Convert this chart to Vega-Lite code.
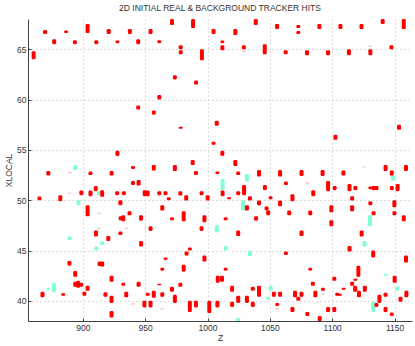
{
  "$schema": "https://vega.github.io/schema/vega-lite/v6.json",
  "autosize": "none",
  "width": 384,
  "height": 302,
  "padding": {"left": 28, "top": 19, "right": 3, "bottom": 25},
  "background": "white",
  "title": {"text": "2D INITIAL REAL & BACKGROUND TRACKER HITS", "font": "Liberation Sans", "fontSize": 8.5, "fontWeight": "normal", "color": "#333333", "offset": 7, "anchor": "middle"},
  "config": {
    "view": {"stroke": null},
    "axis": {"labelFont": "Liberation Sans", "titleFont": "Liberation Sans", "labelFontSize": 8.5, "titleFontSize": 8.5, "titleFontWeight": "normal", "labelColor": "#333333", "titleColor": "#333333", "domainColor": "#404040", "tickColor": "#404040", "gridColor": "#bdbdbd", "gridDash": [1, 3], "gridWidth": 1}
  },
  "data": {"values": [
    {"z": 860.5, "lo": 64.0, "hi": 64.8, "c": "red"},
    {"z": 869.7, "lo": 66.5, "hi": 66.9, "c": "red"},
    {"z": 877.0, "lo": 65.5, "hi": 66.0, "c": "red"},
    {"z": 886.6, "lo": 66.6, "hi": 66.85, "c": "red"},
    {"z": 893.6, "lo": 65.5, "hi": 65.9, "c": "red"},
    {"z": 903.8, "lo": 66.6, "hi": 67.5, "c": "red"},
    {"z": 910.8, "lo": 65.5, "hi": 65.9, "c": "red"},
    {"z": 920.7, "lo": 66.5, "hi": 67.0, "c": "red"},
    {"z": 927.7, "lo": 65.6, "hi": 65.86, "c": "red"},
    {"z": 937.7, "lo": 66.5, "hi": 67.0, "c": "red"},
    {"z": 944.4, "lo": 65.5, "hi": 66.0, "c": "red"},
    {"z": 954.3, "lo": 66.5, "hi": 67.0, "c": "red"},
    {"z": 961.3, "lo": 65.6, "hi": 65.9, "c": "red"},
    {"z": 971.5, "lo": 67.4, "hi": 68.0, "c": "red"},
    {"z": 978.5, "lo": 65.0, "hi": 65.4, "c": "red"},
    {"z": 978.5, "lo": 64.5, "hi": 64.9, "c": "red"},
    {"z": 988.4, "lo": 67.1, "hi": 68.0, "c": "red"},
    {"z": 995.5, "lo": 63.9, "hi": 65.0, "c": "red"},
    {"z": 973.8, "lo": 62.0, "hi": 62.4, "c": "red"},
    {"z": 990.8, "lo": 61.5, "hi": 61.9, "c": "red"},
    {"z": 961.3, "lo": 60.0, "hi": 60.45, "c": "red"},
    {"z": 944.4, "lo": 59.0, "hi": 59.4, "c": "red"},
    {"z": 956.9, "lo": 58.5, "hi": 58.9, "c": "red"},
    {"z": 978.5, "lo": 57.1, "hi": 57.3, "c": "red"},
    {"z": 927.7, "lo": 54.4, "hi": 54.9, "c": "red"},
    {"z": 1004.8, "lo": 66.5, "hi": 67.0, "c": "red"},
    {"z": 1022.3, "lo": 66.4, "hi": 67.0, "c": "red"},
    {"z": 1038.7, "lo": 67.4, "hi": 68.0, "c": "red"},
    {"z": 1011.9, "lo": 65.6, "hi": 65.86, "c": "red"},
    {"z": 1011.9, "lo": 64.9, "hi": 65.4, "c": "red"},
    {"z": 1029.1, "lo": 65.0, "hi": 65.4, "c": "red"},
    {"z": 1029.1, "lo": 64.72, "hi": 64.85, "c": "pink"},
    {"z": 1045.9, "lo": 64.5, "hi": 65.5, "c": "red"},
    {"z": 1055.8, "lo": 67.0, "hi": 67.5, "c": "red"},
    {"z": 1062.7, "lo": 64.5, "hi": 64.9, "c": "red"},
    {"z": 1072.8, "lo": 67.1, "hi": 67.4, "c": "red"},
    {"z": 1072.8, "lo": 66.5, "hi": 66.8, "c": "red"},
    {"z": 1079.8, "lo": 64.4, "hi": 64.9, "c": "red"},
    {"z": 1089.7, "lo": 67.0, "hi": 67.5, "c": "red"},
    {"z": 1096.7, "lo": 64.4, "hi": 64.9, "c": "red"},
    {"z": 1106.6, "lo": 67.0, "hi": 67.5, "c": "red"},
    {"z": 1113.4, "lo": 64.4, "hi": 65.0, "c": "red"},
    {"z": 1123.5, "lo": 67.0, "hi": 67.5, "c": "red"},
    {"z": 1130.6, "lo": 64.4, "hi": 65.0, "c": "red"},
    {"z": 1130.6, "lo": 65.22, "hi": 65.35, "c": "pink"},
    {"z": 1140.5, "lo": 67.5, "hi": 68.0, "c": "red"},
    {"z": 1147.5, "lo": 65.0, "hi": 65.4, "c": "red"},
    {"z": 1157.4, "lo": 67.0, "hi": 68.0, "c": "red"},
    {"z": 1007.4, "lo": 57.4, "hi": 57.9, "c": "red"},
    {"z": 1004.8, "lo": 55.5, "hi": 55.8, "c": "red"},
    {"z": 1011.9, "lo": 54.4, "hi": 54.9, "c": "red"},
    {"z": 1102.6, "lo": 56.0, "hi": 56.5, "c": "red"},
    {"z": 1153.6, "lo": 57.0, "hi": 57.5, "c": "red"},
    {"z": 893.9, "lo": 53.0, "hi": 53.5, "c": "cyan"},
    {"z": 872.3, "lo": 52.45, "hi": 52.9, "c": "red"},
    {"z": 889.4, "lo": 52.68, "hi": 52.8, "c": "pink"},
    {"z": 906.1, "lo": 52.5, "hi": 52.85, "c": "red"},
    {"z": 923.0, "lo": 52.45, "hi": 52.9, "c": "red"},
    {"z": 910.3, "lo": 50.9, "hi": 51.4, "c": "red"},
    {"z": 865.2, "lo": 50.0, "hi": 50.36, "c": "red"},
    {"z": 881.9, "lo": 49.9, "hi": 50.5, "c": "red"},
    {"z": 889.4, "lo": 50.65, "hi": 50.77, "c": "pink"},
    {"z": 898.8, "lo": 50.5, "hi": 50.96, "c": "red"},
    {"z": 906.1, "lo": 50.4, "hi": 50.96, "c": "red"},
    {"z": 912.9, "lo": 50.5, "hi": 50.9, "c": "cyan"},
    {"z": 915.5, "lo": 50.35, "hi": 51.0, "c": "red"},
    {"z": 927.5, "lo": 50.5, "hi": 50.9, "c": "red"},
    {"z": 932.9, "lo": 50.5, "hi": 50.9, "c": "red"},
    {"z": 896.5, "lo": 49.5, "hi": 50.0, "c": "cyan"},
    {"z": 930.1, "lo": 49.5, "hi": 50.0, "c": "red"},
    {"z": 903.8, "lo": 48.4, "hi": 49.5, "c": "red"},
    {"z": 912.9, "lo": 48.64, "hi": 48.76, "c": "pink"},
    {"z": 930.3, "lo": 48.0, "hi": 48.4, "c": "red"},
    {"z": 932.4, "lo": 47.9, "hi": 48.5, "c": "red"},
    {"z": 910.5, "lo": 46.4, "hi": 47.0, "c": "red"},
    {"z": 912.9, "lo": 47.14, "hi": 47.26, "c": "pink"},
    {"z": 930.1, "lo": 46.55, "hi": 46.9, "c": "red"},
    {"z": 889.4, "lo": 46.05, "hi": 46.4, "c": "cyan"},
    {"z": 920.4, "lo": 45.95, "hi": 46.45, "c": "red"},
    {"z": 915.5, "lo": 45.55, "hi": 45.9, "c": "cyan"},
    {"z": 910.8, "lo": 45.0, "hi": 45.4, "c": "cyan"},
    {"z": 889.2, "lo": 43.5, "hi": 43.96, "c": "red"},
    {"z": 913.4, "lo": 43.46, "hi": 43.9, "c": "red"},
    {"z": 915.5, "lo": 43.4, "hi": 43.9, "c": "red"},
    {"z": 893.9, "lo": 42.4, "hi": 42.96, "c": "red"},
    {"z": 923.0, "lo": 41.9, "hi": 42.5, "c": "red"},
    {"z": 893.9, "lo": 41.4, "hi": 41.9, "c": "red"},
    {"z": 896.2, "lo": 41.3, "hi": 42.0, "c": "red"},
    {"z": 898.6, "lo": 41.4, "hi": 41.8, "c": "red"},
    {"z": 872.3, "lo": 41.1, "hi": 41.3, "c": "cyan"},
    {"z": 876.7, "lo": 40.85, "hi": 41.8, "c": "cyan"},
    {"z": 903.8, "lo": 41.0, "hi": 41.5, "c": "red"},
    {"z": 932.4, "lo": 41.5, "hi": 41.8, "c": "red"},
    {"z": 867.6, "lo": 40.35, "hi": 40.9, "c": "red"},
    {"z": 884.2, "lo": 40.5, "hi": 40.75, "c": "red"},
    {"z": 901.2, "lo": 40.5, "hi": 40.9, "c": "red"},
    {"z": 918.1, "lo": 40.4, "hi": 40.85, "c": "red"},
    {"z": 923.0, "lo": 39.8, "hi": 40.5, "c": "red"},
    {"z": 934.8, "lo": 40.35, "hi": 40.9, "c": "red"},
    {"z": 923.0, "lo": 38.35, "hi": 39.0, "c": "red"},
    {"z": 940.2, "lo": 53.1, "hi": 53.4, "c": "red"},
    {"z": 956.9, "lo": 52.95, "hi": 53.5, "c": "red"},
    {"z": 973.8, "lo": 52.9, "hi": 53.5, "c": "red"},
    {"z": 988.1, "lo": 53.5, "hi": 54.0, "c": "red"},
    {"z": 990.7, "lo": 52.5, "hi": 52.9, "c": "red"},
    {"z": 1007.9, "lo": 52.6, "hi": 52.85, "c": "red"},
    {"z": 940.2, "lo": 51.5, "hi": 51.9, "c": "red"},
    {"z": 944.7, "lo": 51.45, "hi": 52.0, "c": "red"},
    {"z": 949.6, "lo": 50.4, "hi": 51.0, "c": "red"},
    {"z": 952.0, "lo": 50.4, "hi": 50.96, "c": "red"},
    {"z": 961.3, "lo": 50.5, "hi": 50.9, "c": "red"},
    {"z": 966.3, "lo": 50.5, "hi": 50.9, "c": "red"},
    {"z": 968.9, "lo": 50.0, "hi": 50.3, "c": "red"},
    {"z": 978.2, "lo": 50.46, "hi": 50.9, "c": "red"},
    {"z": 982.9, "lo": 49.96, "hi": 50.5, "c": "red"},
    {"z": 995.2, "lo": 50.5, "hi": 50.9, "c": "red"},
    {"z": 1000.1, "lo": 49.96, "hi": 50.5, "c": "red"},
    {"z": 963.7, "lo": 48.97, "hi": 49.5, "c": "red"},
    {"z": 937.4, "lo": 48.5, "hi": 48.9, "c": "red"},
    {"z": 946.7, "lo": 47.97, "hi": 48.5, "c": "red"},
    {"z": 971.5, "lo": 48.0, "hi": 48.3, "c": "red"},
    {"z": 980.9, "lo": 47.9, "hi": 48.9, "c": "red"},
    {"z": 997.5, "lo": 47.8, "hi": 48.5, "c": "red"},
    {"z": 935.0, "lo": 47.14, "hi": 47.26, "c": "pink"},
    {"z": 954.3, "lo": 46.95, "hi": 47.4, "c": "red"},
    {"z": 995.2, "lo": 46.95, "hi": 47.4, "c": "red"},
    {"z": 1007.4, "lo": 46.8, "hi": 47.5, "c": "cyan"},
    {"z": 946.7, "lo": 45.4, "hi": 45.95, "c": "red"},
    {"z": 985.8, "lo": 45.0, "hi": 45.3, "c": "red"},
    {"z": 983.2, "lo": 44.5, "hi": 44.9, "c": "red"},
    {"z": 966.3, "lo": 44.06, "hi": 44.3, "c": "red"},
    {"z": 997.5, "lo": 43.9, "hi": 44.5, "c": "red"},
    {"z": 980.9, "lo": 42.9, "hi": 43.6, "c": "red"},
    {"z": 963.7, "lo": 43.0, "hi": 43.3, "c": "red"},
    {"z": 944.7, "lo": 41.4, "hi": 41.9, "c": "red"},
    {"z": 961.3, "lo": 41.55, "hi": 41.7, "c": "red"},
    {"z": 978.2, "lo": 41.4, "hi": 41.8, "c": "red"},
    {"z": 1008.2, "lo": 41.8, "hi": 42.5, "c": "red"},
    {"z": 1011.6, "lo": 41.9, "hi": 42.5, "c": "red"},
    {"z": 971.5, "lo": 40.9, "hi": 41.4, "c": "red"},
    {"z": 952.0, "lo": 40.5, "hi": 40.8, "c": "red"},
    {"z": 956.9, "lo": 40.3, "hi": 41.0, "c": "red"},
    {"z": 963.7, "lo": 40.4, "hi": 40.85, "c": "red"},
    {"z": 973.8, "lo": 39.8, "hi": 40.6, "c": "red"},
    {"z": 940.2, "lo": 39.64, "hi": 39.76, "c": "pink"},
    {"z": 949.4, "lo": 39.35, "hi": 40.0, "c": "red"},
    {"z": 954.3, "lo": 39.35, "hi": 40.0, "c": "red"},
    {"z": 963.7, "lo": 39.14, "hi": 39.26, "c": "pink"},
    {"z": 985.8, "lo": 38.9, "hi": 40.0, "c": "red"},
    {"z": 990.7, "lo": 39.35, "hi": 40.0, "c": "red"},
    {"z": 1001.4, "lo": 38.8, "hi": 40.0, "c": "red"},
    {"z": 1007.9, "lo": 39.35, "hi": 40.0, "c": "red"},
    {"z": 1022.3, "lo": 53.4, "hi": 54.0, "c": "red"},
    {"z": 1024.6, "lo": 52.5, "hi": 52.85, "c": "red"},
    {"z": 1031.6, "lo": 51.85, "hi": 52.6, "c": "cyan"},
    {"z": 1041.3, "lo": 52.35, "hi": 53.0, "c": "red"},
    {"z": 1058.2, "lo": 52.35, "hi": 53.0, "c": "red"},
    {"z": 1075.4, "lo": 52.4, "hi": 53.0, "c": "red"},
    {"z": 1062.9, "lo": 51.5, "hi": 51.85, "c": "red"},
    {"z": 1080.1, "lo": 51.64, "hi": 51.76, "c": "pink"},
    {"z": 1012.1, "lo": 51.0, "hi": 52.1, "c": "cyan"},
    {"z": 1012.1, "lo": 50.4, "hi": 50.96, "c": "red"},
    {"z": 1017.3, "lo": 50.1, "hi": 50.3, "c": "red"},
    {"z": 1024.6, "lo": 50.5, "hi": 50.9, "c": "red"},
    {"z": 1029.3, "lo": 50.5, "hi": 51.5, "c": "red"},
    {"z": 1046.0, "lo": 51.0, "hi": 51.5, "c": "red"},
    {"z": 1034.0, "lo": 49.96, "hi": 50.4, "c": "red"},
    {"z": 1050.6, "lo": 50.1, "hi": 50.4, "c": "red"},
    {"z": 1068.1, "lo": 49.9, "hi": 50.6, "c": "red"},
    {"z": 1084.8, "lo": 50.4, "hi": 51.0, "c": "red"},
    {"z": 1041.3, "lo": 49.5, "hi": 49.96, "c": "red"},
    {"z": 1028.5, "lo": 48.97, "hi": 49.96, "c": "cyan"},
    {"z": 1031.6, "lo": 48.97, "hi": 49.5, "c": "red"},
    {"z": 1047.3, "lo": 49.0, "hi": 49.37, "c": "red"},
    {"z": 1048.6, "lo": 48.5, "hi": 49.0, "c": "red"},
    {"z": 1058.2, "lo": 49.4, "hi": 49.96, "c": "red"},
    {"z": 1065.5, "lo": 48.5, "hi": 48.97, "c": "red"},
    {"z": 1082.4, "lo": 48.5, "hi": 48.97, "c": "red"},
    {"z": 1014.5, "lo": 48.0, "hi": 48.3, "c": "red"},
    {"z": 1038.9, "lo": 47.97, "hi": 48.4, "c": "red"},
    {"z": 1024.6, "lo": 46.45, "hi": 46.98, "c": "red"},
    {"z": 1075.4, "lo": 46.45, "hi": 46.98, "c": "red"},
    {"z": 1014.5, "lo": 45.0, "hi": 45.45, "c": "cyan"},
    {"z": 1034.0, "lo": 44.46, "hi": 44.99, "c": "cyan"},
    {"z": 1062.9, "lo": 44.56, "hi": 44.9, "c": "red"},
    {"z": 1014.5, "lo": 43.0, "hi": 43.3, "c": "red"},
    {"z": 1082.4, "lo": 43.0, "hi": 43.3, "c": "red"},
    {"z": 1084.5, "lo": 41.5, "hi": 41.9, "c": "red"},
    {"z": 1019.7, "lo": 40.9, "hi": 41.5, "c": "red"},
    {"z": 1036.3, "lo": 41.0, "hi": 41.4, "c": "red"},
    {"z": 1041.3, "lo": 40.4, "hi": 41.5, "c": "red"},
    {"z": 1050.6, "lo": 41.0, "hi": 41.5, "c": "cyan"},
    {"z": 1048.6, "lo": 40.1, "hi": 40.4, "c": "cyan"},
    {"z": 1053.2, "lo": 40.4, "hi": 40.9, "c": "red"},
    {"z": 1058.2, "lo": 40.4, "hi": 40.9, "c": "red"},
    {"z": 1070.2, "lo": 40.35, "hi": 41.0, "c": "red"},
    {"z": 1075.4, "lo": 40.4, "hi": 40.9, "c": "red"},
    {"z": 1072.8, "lo": 40.0, "hi": 40.4, "c": "red"},
    {"z": 1086.5, "lo": 40.35, "hi": 41.0, "c": "red"},
    {"z": 1019.7, "lo": 39.4, "hi": 39.9, "c": "red"},
    {"z": 1024.6, "lo": 39.8, "hi": 40.5, "c": "red"},
    {"z": 1031.6, "lo": 39.8, "hi": 40.5, "c": "red"},
    {"z": 1036.3, "lo": 39.4, "hi": 39.9, "c": "red"},
    {"z": 1055.9, "lo": 39.5, "hi": 39.8, "c": "red"},
    {"z": 1055.9, "lo": 39.14, "hi": 39.26, "c": "pink"},
    {"z": 1068.1, "lo": 38.9, "hi": 39.4, "c": "red"},
    {"z": 1080.1, "lo": 38.5, "hi": 38.9, "c": "red"},
    {"z": 1024.6, "lo": 38.0, "hi": 38.3, "c": "cyan"},
    {"z": 1125.6, "lo": 53.24, "hi": 53.36, "c": "pink"},
    {"z": 1092.3, "lo": 52.4, "hi": 53.0, "c": "red"},
    {"z": 1109.0, "lo": 52.45, "hi": 52.95, "c": "red"},
    {"z": 1142.8, "lo": 52.9, "hi": 53.5, "c": "red"},
    {"z": 1147.8, "lo": 52.45, "hi": 52.95, "c": "red"},
    {"z": 1148.8, "lo": 51.95, "hi": 52.45, "c": "cyan"},
    {"z": 1159.2, "lo": 52.9, "hi": 53.5, "c": "red"},
    {"z": 1096.7, "lo": 50.9, "hi": 51.9, "c": "red"},
    {"z": 1102.0, "lo": 51.0, "hi": 51.4, "c": "red"},
    {"z": 1113.9, "lo": 50.9, "hi": 51.6, "c": "red"},
    {"z": 1118.6, "lo": 51.0, "hi": 51.4, "c": "red"},
    {"z": 1130.6, "lo": 51.1, "hi": 51.35, "c": "red"},
    {"z": 1133.2, "lo": 51.0, "hi": 51.4, "c": "red"},
    {"z": 1135.5, "lo": 51.0, "hi": 51.4, "c": "red"},
    {"z": 1147.8, "lo": 51.0, "hi": 51.4, "c": "red"},
    {"z": 1152.5, "lo": 50.9, "hi": 51.6, "c": "red"},
    {"z": 1116.0, "lo": 49.96, "hi": 50.4, "c": "red"},
    {"z": 1130.6, "lo": 49.5, "hi": 49.9, "c": "red"},
    {"z": 1149.9, "lo": 49.3, "hi": 50.0, "c": "red"},
    {"z": 1099.3, "lo": 48.8, "hi": 49.5, "c": "red"},
    {"z": 1116.0, "lo": 48.9, "hi": 49.5, "c": "red"},
    {"z": 1133.2, "lo": 48.5, "hi": 48.9, "c": "red"},
    {"z": 1149.9, "lo": 48.5, "hi": 48.9, "c": "red"},
    {"z": 1130.3, "lo": 47.4, "hi": 48.5, "c": "cyan"},
    {"z": 1157.4, "lo": 47.9, "hi": 48.5, "c": "red"},
    {"z": 1099.3, "lo": 47.4, "hi": 48.0, "c": "red"},
    {"z": 1123.6, "lo": 46.4, "hi": 47.0, "c": "red"},
    {"z": 1125.9, "lo": 45.4, "hi": 45.95, "c": "cyan"},
    {"z": 1113.9, "lo": 44.9, "hi": 45.45, "c": "red"},
    {"z": 1132.9, "lo": 44.3, "hi": 45.0, "c": "red"},
    {"z": 1159.2, "lo": 43.8, "hi": 44.5, "c": "red"},
    {"z": 1121.0, "lo": 42.4, "hi": 43.5, "c": "red"},
    {"z": 1101.7, "lo": 42.0, "hi": 42.4, "c": "red"},
    {"z": 1143.1, "lo": 42.5, "hi": 42.7, "c": "cyan"},
    {"z": 1118.6, "lo": 42.0, "hi": 42.2, "c": "red"},
    {"z": 1150.1, "lo": 41.8, "hi": 42.5, "c": "red"},
    {"z": 1116.0, "lo": 41.5, "hi": 41.9, "c": "red"},
    {"z": 1092.6, "lo": 41.0, "hi": 41.3, "c": "red"},
    {"z": 1109.2, "lo": 41.1, "hi": 41.3, "c": "red"},
    {"z": 1118.4, "lo": 40.9, "hi": 41.5, "c": "red"},
    {"z": 1126.2, "lo": 40.9, "hi": 41.5, "c": "red"},
    {"z": 1152.2, "lo": 41.0, "hi": 41.4, "c": "cyan"},
    {"z": 1092.6, "lo": 40.64, "hi": 40.76, "c": "pink"},
    {"z": 1104.0, "lo": 40.5, "hi": 40.8, "c": "red"},
    {"z": 1106.1, "lo": 40.5, "hi": 40.7, "c": "red"},
    {"z": 1121.5, "lo": 40.35, "hi": 41.0, "c": "red"},
    {"z": 1142.8, "lo": 40.4, "hi": 40.8, "c": "red"},
    {"z": 1159.5, "lo": 40.35, "hi": 41.0, "c": "red"},
    {"z": 1137.9, "lo": 39.8, "hi": 40.6, "c": "red"},
    {"z": 1154.8, "lo": 39.9, "hi": 40.4, "c": "red"},
    {"z": 1133.0, "lo": 38.9, "hi": 39.9, "c": "cyan"},
    {"z": 1135.5, "lo": 39.4, "hi": 39.8, "c": "red"},
    {"z": 1096.7, "lo": 38.9, "hi": 39.4, "c": "red"},
    {"z": 1101.7, "lo": 38.9, "hi": 39.4, "c": "red"},
    {"z": 1142.8, "lo": 38.9, "hi": 39.4, "c": "red"},
    {"z": 1147.8, "lo": 38.5, "hi": 38.85, "c": "red"},
    {"z": 1090.0, "lo": 38.0, "hi": 38.5, "c": "red"}
  ]},
  "mark": {"type": "bar", "width": 4, "cornerRadius": 1.3},
  "encoding": {
    "x": {"field": "z", "type": "quantitative", "scale": {"domain": [860, 1160], "nice": false, "zero": false}, "axis": {"title": "Z", "values": [900, 950, 1000, 1050, 1100, 1150], "format": "d", "tickSize": -3, "labelPadding": 5, "titlePadding": 2, "grid": true}},
    "y": {"field": "lo", "type": "quantitative", "scale": {"domain": [38, 68], "nice": false, "zero": false}, "axis": {"title": "XLOCAL", "values": [40, 45, 50, 55, 60, 65], "tickSize": -3, "labelPadding": 5, "titlePadding": 3, "grid": true}},
    "y2": {"field": "hi"},
    "color": {"field": "c", "type": "nominal", "scale": {"domain": ["cyan", "pink", "red"], "range": ["#7fffd4", "#ffc4c4", "#ff0000"]}, "legend": null},
    "order": {"field": "c", "type": "nominal"}
  }
}
